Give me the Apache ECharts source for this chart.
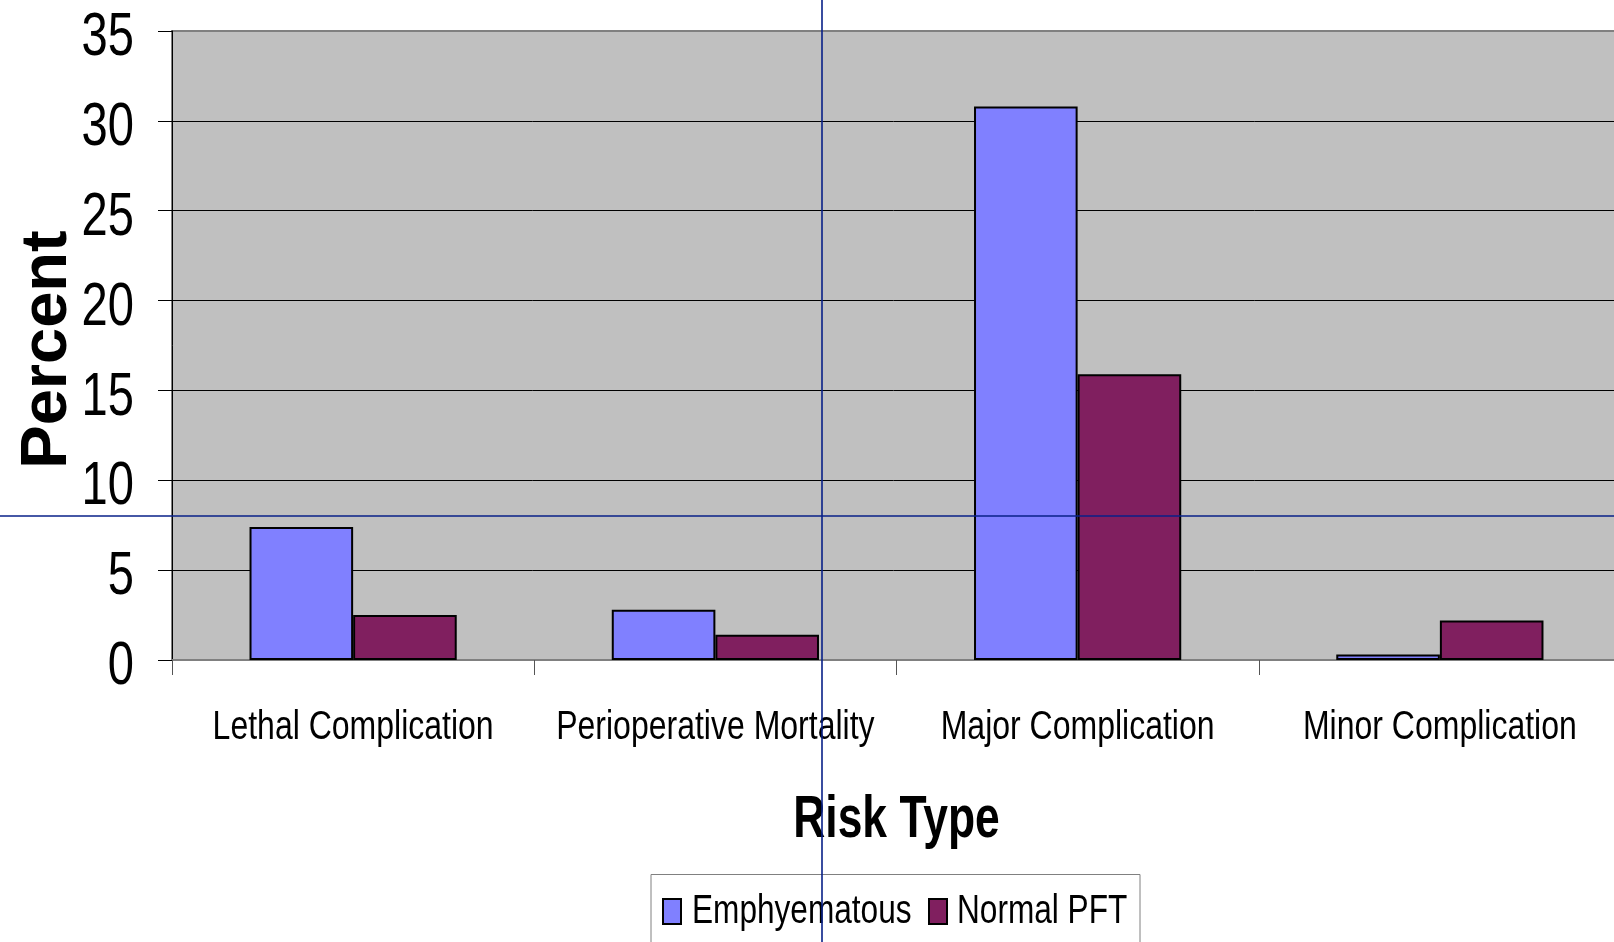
<!DOCTYPE html>
<html>
<head>
<meta charset="utf-8">
<script src="https://cdn.jsdelivr.net/npm/echarts@6/dist/echarts.min.js"></script>
<style>
html,body{margin:0;padding:0;background:#fff;}
#c{width:1614px;height:942px;}
</style>
</head>
<body>
<div id="c"></div>
<script>
var categories = ['Lethal Complication', 'Perioperative Mortality', 'Major Complication', 'Minor Complication'];
var emphyematous = [7.4, 2.8, 30.8, 0.3];
var normalPFT = [2.5, 1.4, 15.9, 2.2];
var seriesNames = ['Emphyematous', 'Normal PFT'];
var seriesColors = ['#8080ff', '#801f5f'];
var yTickLabels = ['0', '5', '10', '15', '20', '25', '30', '35'];
var xAxisTitle = 'Risk Type';
var yAxisTitle = 'Percent';

var FONT = '"Liberation Sans", Arial, sans-serif';
var chart = echarts.init(document.getElementById('c'), null, {renderer: 'canvas'});
var yMin = Number(yTickLabels[0]);
var yMax = Number(yTickLabels[yTickLabels.length - 1]);
var yInt = Number(yTickLabels[1]) - Number(yTickLabels[0]);
var splitColors = yTickLabels.map(function (t, i) {
  return (i === 0 || i === yTickLabels.length - 1) ? '#808080' : '#000000';
});

chart.setOption({
  backgroundColor: '#ffffff',
  animation: false,
  grid: {
    left: 172, top: 31, right: -7, bottom: 282,
    show: true, backgroundColor: '#c0c0c0', borderColor: '#808080', borderWidth: 2,
    containLabel: false, outerBoundsMode: 'none'
  },
  xAxis: {
    type: 'category',
    data: categories,
    axisLine: {show: true, lineStyle: {color: '#808080', width: 2}},
    axisTick: {show: true, alignWithLabel: false, length: 15, lineStyle: {color: '#555', width: 1}},
    axisLabel: {show: false},
    splitLine: {show: false}
  },
  yAxis: {
    type: 'value',
    min: yMin, max: yMax, interval: yInt,
    axisLine: {show: true, lineStyle: {color: '#000', width: 1}},
    axisTick: {show: true, length: 14, lineStyle: {color: '#000', width: 1}},
    axisLabel: {show: false},
    splitLine: {show: true, lineStyle: {color: splitColors, width: 1}}
  },
  series: [
    {
      name: seriesNames[0], type: 'bar', data: emphyematous,
      barWidth: '28.6%', barGap: '0%',
      itemStyle: {color: seriesColors[0], borderColor: '#000', borderWidth: 2}
    },
    {
      name: seriesNames[1], type: 'bar', data: normalPFT,
      barWidth: '28.6%', barGap: '0%',
      itemStyle: {color: seriesColors[1], borderColor: '#000', borderWidth: 2}
    }
  ]
});

// Condensed text (the original uses a narrow face), placed through the chart's own scales
var g = [];
function txt(o) {
  return {
    type: 'text', silent: true, z: 50,
    x: o.x, y: o.y, scaleX: o.sx || 1, rotation: o.rot || 0,
    style: {
      text: o.text, x: 0, y: 0,
      align: o.align || 'center', verticalAlign: o.va || 'middle',
      fontSize: o.size, fontFamily: FONT, fontWeight: o.weight || 'normal', fill: '#000'
    }
  };
}
yTickLabels.forEach(function (t) {
  var py = chart.convertToPixel({yAxisIndex: 0}, Number(t));
  g.push(txt({text: t, x: 134, y: py + 7, sx: 0.76, size: 62, align: 'right'}));
});
var plotBottom = chart.convertToPixel({yAxisIndex: 0}, yMin);
categories.forEach(function (c) {
  var px = chart.convertToPixel({xAxisIndex: 0}, c);
  g.push(txt({text: c, x: px, y: plotBottom + 48, sx: 0.80, size: 40, va: 'top'}));
});
var firstX = chart.convertToPixel({xAxisIndex: 0}, categories[0]);
var lastX = chart.convertToPixel({xAxisIndex: 0}, categories[categories.length - 1]);
var midX = (firstX + lastX) / 2;
g.push(txt({text: xAxisTitle, x: midX, y: plotBottom + 130, sx: 0.74, size: 60, weight: 'bold', va: 'top'}));
var midY = (chart.convertToPixel({yAxisIndex: 0}, yMin) + chart.convertToPixel({yAxisIndex: 0}, yMax)) / 2;
g.push(txt({text: yAxisTitle, x: 48, y: midY + 4, size: 65, weight: 'bold', rot: Math.PI / 2}));

// Legend box
g.push({type: 'rect', silent: true, z: 40, shape: {x: 651, y: 874.5, width: 489, height: 100},
  style: {fill: '#fff', stroke: '#808080', lineWidth: 1}});
var legendItems = [{icon: 663, text: 692}, {icon: 929, text: 957}];
seriesNames.forEach(function (n, i) {
  g.push({type: 'rect', silent: true, z: 45, shape: {x: legendItems[i].icon, y: 899, width: 18, height: 25},
    style: {fill: seriesColors[i], stroke: '#000', lineWidth: 2}});
  g.push(txt({text: n, x: legendItems[i].text, y: 912, sx: 0.79, size: 40, align: 'left'}));
});

// Crosshair cursor lines present in the screenshot
g.push({type: 'line', silent: true, z: 100, shape: {x1: 0, y1: 516, x2: 1614, y2: 516}, style: {stroke: '#082088', lineWidth: 1.6}});
g.push({type: 'line', silent: true, z: 100, shape: {x1: 822, y1: 0, x2: 822, y2: 942}, style: {stroke: '#082088', lineWidth: 1.6}});

chart.setOption({graphic: g});
</script>
</body>
</html>
